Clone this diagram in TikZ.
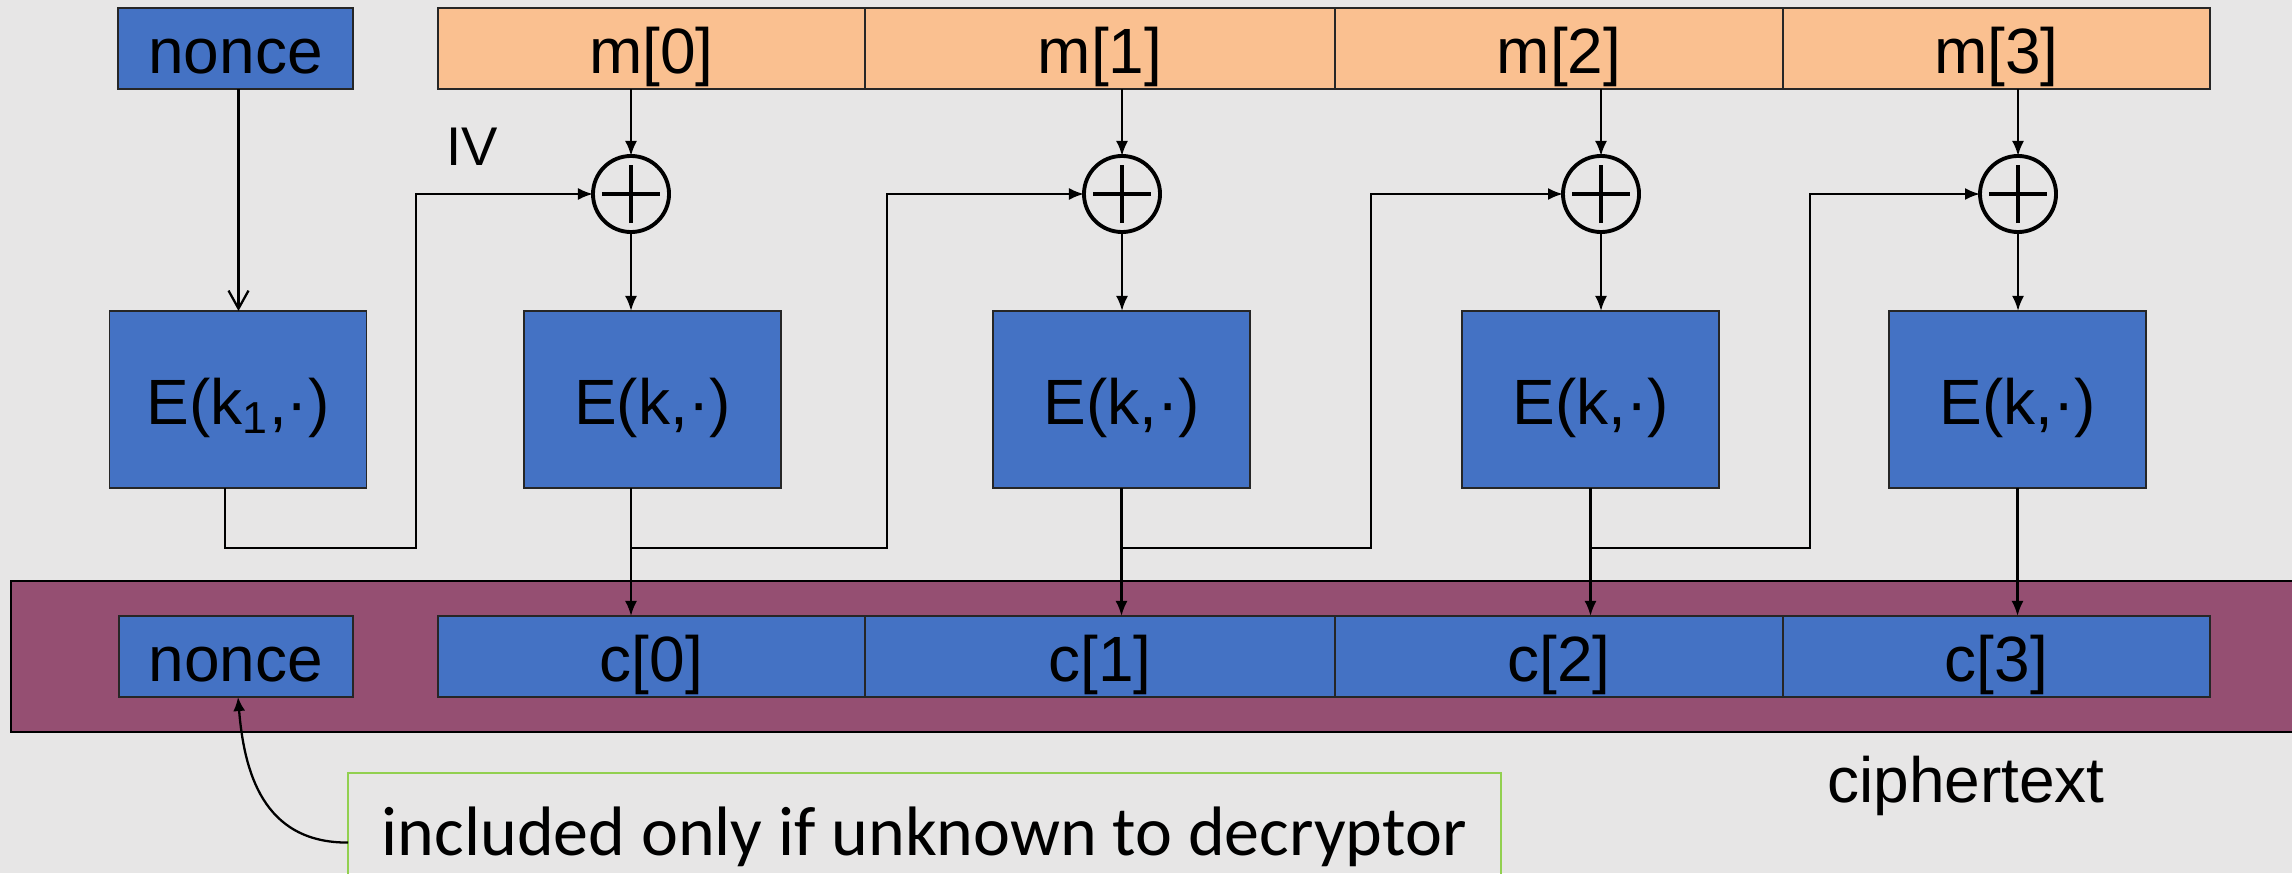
\documentclass[tikz,border=0pt]{standalone}
\usepackage{fontspec}
\setmainfont{Liberation Sans}
\newfontfamily\notefont{Carlito}
\usepackage{tikz}
\usetikzlibrary{positioning,arrows.meta}
\definecolor{bggray}{RGB}{231,230,230}
\definecolor{blkblue}{RGB}{68,114,196}
\definecolor{msgpeach}{RGB}{250,192,144}
\definecolor{ctplum}{RGB}{149,79,114}
\definecolor{notegreen}{RGB}{146,208,80}

\begin{document}
\begin{tikzpicture}[x=0.01cm, y=-0.01cm, inner sep=0pt, outer sep=0pt,
  font=\fontsize{18.2}{20}\selectfont,
  cell/.style={draw=black!85, line width=0.5pt, minimum height=0.81cm, text height=0.55cm, text depth=0.06cm},
  mcell/.style={cell, fill=msgpeach},
  ccell/.style={cell, fill=blkblue},
  ebox/.style={draw=black!85, line width=0.5pt, fill=blkblue, minimum width=2.57cm, minimum height=1.77cm,
    text height=0.55cm, text depth=0.06cm},
  xor/.style={circle, draw, line width=1.1pt, minimum size=0.76cm,
    path picture={\draw[line width=1.2pt]
      ([xshift=-0.29cm]path picture bounding box.center) -- ([xshift=0.29cm]path picture bounding box.center)
      ([yshift=-0.29cm]path picture bounding box.center) -- ([yshift=0.29cm]path picture bounding box.center);}},
  wire/.style={line width=0.65pt},
  arr/.style={wire, -{Latex[length=0.15cm,width=0.12cm]}}]

\useasboundingbox (0,0) rectangle (2292,873);
\clip (0,0) rectangle (2292,873);
\fill[bggray] (0,0) rectangle (2292,873);

%% top row: nonce and message blocks
\node[cell, fill=blkblue, minimum width=2.35cm] (nt) at (235.5,48.5) {nonce};
\node[mcell, minimum width=4.27cm] (m0) at (651.5,48.5) {m[0]};
\node[mcell, minimum width=4.70cm] (m1) at (1100,48.5) {m[1]};
\node[mcell, minimum width=4.48cm] (m2) at (1559,48.5) {m[2]};
\node[mcell, minimum width=4.27cm] (m3) at (1996.5,48.5) {m[3]};

%% xor gates
\node[xor] (x0) at (631,194) {};
\node[xor] (x1) at (1122,194) {};
\node[xor] (x2) at (1601,194) {};
\node[xor] (x3) at (2018,194) {};
\node[anchor=base, font=\fontsize{15.5}{17}\selectfont] (ivlabel) at (472,166) {IV};

%% block ciphers
\node[ebox] (e1k) at (238,399.5) {E(k\textsubscript{1},·)};
\node[ebox] (e0) at (652.5,399.5) {E(k,·)};
\node[ebox] (e1) at (1121.5,399.5) {E(k,·)};
\node[ebox] (e2) at (1590.5,399.5) {E(k,·)};
\node[ebox] (e3) at (2017.5,399.5) {E(k,·)};

%% ciphertext band
\draw[fill=ctplum, line width=0.6pt] (11,581) rectangle (2320,732);
\node[ccell, minimum width=2.34cm] (nb) at (236,656.5) {nonce};
\node[ccell, minimum width=4.27cm] (c0) at (651.5,656.5) {c[0]};
\node[ccell, minimum width=4.70cm] (c1) at (1100,656.5) {c[1]};
\node[ccell, minimum width=4.48cm] (c2) at (1559,656.5) {c[2]};
\node[ccell, minimum width=4.27cm] (c3) at (1996.5,656.5) {c[3]};
\node[anchor=base] (ctlabel) at (1966,802) {ciphertext};

%% message into xor, xor into cipher
\draw[arr] (m0.south -| x0) -- (x0.north);
\draw[arr] (m1.south -| x1) -- (x1.north);
\draw[arr] (m2.south -| x2) -- (x2.north);
\draw[arr] (m3.south -| x3) -- (x3.north);
\draw[arr] (x0.south) -- (x0 |- e0.north);
\draw[arr] (x1.south) -- (x1 |- e1.north);
\draw[arr] (x2.south) -- (x2 |- e2.north);
\draw[arr] (x3.south) -- (x3 |- e3.north);

%% nonce through E(k1) gives the IV
\draw[wire, -{Straight Barb[length=0.18cm,width=0.2cm]}] ([xshift=0.03cm]nt.south) -- ([xshift=0.03cm]nt.south |- e1k.north);
\coordinate (r0) at (416,548);
\coordinate (r1) at (887,548);
\coordinate (r2) at (1371,548);
\coordinate (r3) at (1810,548);
\draw[arr] ([xshift=-0.13cm]e1k.south) |- (r0) |- (x0.west);

%% cipher outputs down to the ciphertext, and on to the next xor
\draw[arr] (e0.south -| x0) -- (c0.north -| x0);
\draw[arr] (e1.south) -- (c1.north -| e1.south);
\draw[arr] (e2.south) -- (c2.north -| e2.south);
\draw[arr] (e3.south) -- (c3.north -| e3.south);
\draw[arr] (x0 |- r1) -- (r1) |- (x1.west);
\draw[arr] (e1 |- r2) -- (r2) |- (x2.west);
\draw[arr] (e2 |- r3) -- (r3) |- (x3.west);

%% note on the nonce
\node[draw=notegreen, line width=0.6pt, anchor=north west, minimum width=11.52cm, minimum height=1.27cm,
  font=\notefont\fontsize{19.9}{22}\selectfont] (note) at (348,773) {included only if unknown to decryptor};
\draw[wire, -{Latex[length=0.14cm,width=0.12cm]}] ([yshift=-0.06cm]note.west) .. controls (262,843) and (244,770) .. ([xshift=0.02cm]nb.south);

\end{tikzpicture}
\end{document}
